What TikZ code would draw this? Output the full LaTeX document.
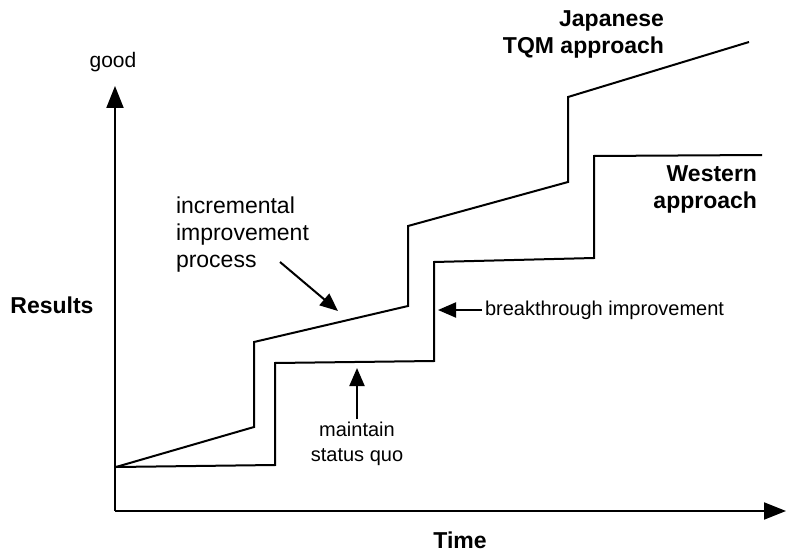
\documentclass[tikz,border=0pt]{standalone}
\usepackage{fontspec}
\setmainfont{Liberation Sans}
\usetikzlibrary{arrows.meta}

\begin{document}
\begin{tikzpicture}[x=0.5pt, y=-0.5pt, line width=1pt, line join=miter,
		every node/.style={inner sep=1pt},
		lbl/.style={font=\fontsize{10}{12.5}\selectfont},
		biglbl/.style={font=\fontsize{11.5}{13.5}\selectfont, align=left},
		boldlbl/.style={font=\fontsize{11.5}{13.5}\selectfont\bfseries},
		axistip/.style={-{Triangle[length=11pt, width=8.5pt]}},
		pointer/.style={-{Triangle[length=9pt, width=7.5pt]}}]
				% \draw[help lines, step=50] (0,0) grid (787,551);
				\useasboundingbox (0,0) rectangle (787,551);

				\coordinate (origin) at (115,511);
				\coordinate (ytop) at (115,86);
				\coordinate (xend) at (786,511);
				\draw[axistip] (origin) -- (ytop);
				\draw[axistip] (origin) -- (xend);

				\node[font=\fontsize{10.5}{12.5}\selectfont] (good) at (113,62) {good};
				\node[boldlbl] (results) at (52,305) {Results};
				\node[boldlbl] (time) at (460,540) {Time};

				% the two approaches
				\coordinate (start) at (116,467);
				\draw (start) -- (254,427) -- (254,342) -- (408,306) -- (408,226)
					-- (568,182) -- (568,97) -- (749,42);
				\draw (start) -- (275,465) -- (275,363) -- (434,361) -- (434,262)
					-- (594,258) -- (594,156) -- (762,155);

				\node[boldlbl, align=right, anchor=north east] (japanese) at (667,8) {Japanese\\TQM approach};
				\node[boldlbl, align=right, anchor=north east] (western) at (760,163) {Western\\approach};

				% pointers
				\node[biglbl, anchor=north west] (incremental) at (173,194) {incremental\\improvement\\process};
				\coordinate (incrfrom) at (280,262);
				\coordinate (incrto) at (338,311);
				\draw[pointer] (incrfrom) -- (incrto);

				\node[lbl, anchor=west] (breakthrough) at (482,310) {breakthrough improvement};
				\coordinate (breakto) at (438,310);
				\draw[pointer] (breakthrough.west) -- (breakto);

				\node[lbl, align=center, anchor=north] (maintain) at (357,419) {maintain\\status quo};
				\coordinate (maintainto) at (357,368);
				\draw[pointer] (maintain.north) -- (maintainto);
\end{tikzpicture}
\end{document}
